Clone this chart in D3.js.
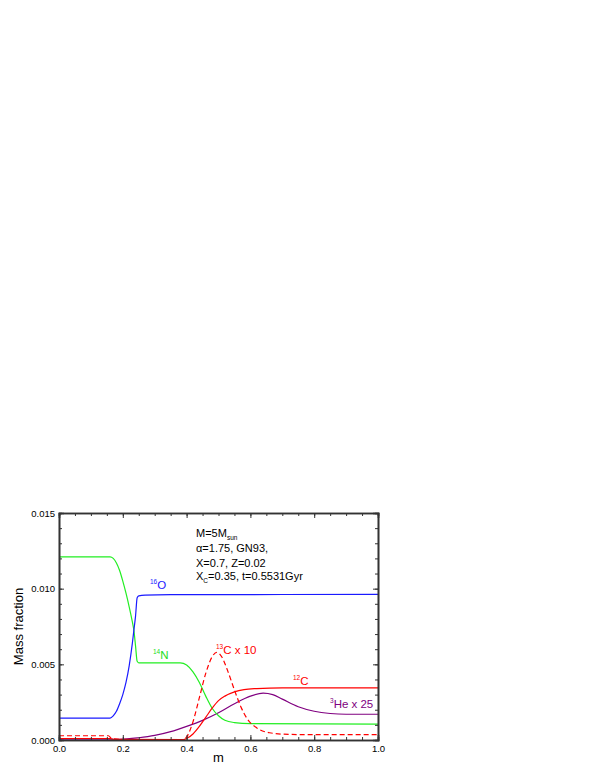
<!DOCTYPE html>
<html>
<head>
<meta charset="utf-8">
<script src="https://cdn.jsdelivr.net/npm/d3@7"></script>
<style>
  html, body { margin: 0; padding: 0; background: #fff; }
  svg { display: block; font-family: "Liberation Sans", Arial, sans-serif; }
</style>
</head>
<body>
<div id="chart"></div>
<script>
// ---- data: [m, mass fraction] ----
const o16 = [[0, 0.00145], [0.16, 0.00145], [0.17, 0.0016], [0.18, 0.0019], [0.19, 0.0024],
  [0.20, 0.0030], [0.21, 0.0038], [0.22, 0.0049], [0.23, 0.0064], [0.235, 0.0073],
  [0.24, 0.0082], [0.245, 0.0094], [0.25, 0.00952], [0.27, 0.00957], [0.35, 0.0096], [1.0, 0.00962]];

const n14 = [[0, 0.0121], [0.16, 0.0121], [0.17, 0.0120], [0.18, 0.0117], [0.19, 0.0112],
  [0.20, 0.0105], [0.21, 0.0097], [0.22, 0.0088], [0.23, 0.0078], [0.235, 0.0072],
  [0.24, 0.0062], [0.245, 0.0052], [0.25, 0.0051], [0.38, 0.0051], [0.40, 0.00495],
  [0.42, 0.0045], [0.44, 0.0038], [0.46, 0.0029], [0.48, 0.0021], [0.50, 0.0016],
  [0.52, 0.0013], [0.55, 0.00115], [0.60, 0.00108], [1.0, 0.00105]];

const c12 = [[0, 0.0001], [0.16, 0.0001], [0.17, 0.00005], [0.39, 0.00003], [0.40, 0.0001],
  [0.42, 0.0004], [0.44, 0.0009], [0.46, 0.0015], [0.48, 0.0021], [0.50, 0.0026],
  [0.52, 0.0029], [0.55, 0.00318], [0.58, 0.00333], [0.62, 0.0034], [0.70, 0.00345], [1.0, 0.00345]];

const c13x10 = [[0, 0.00028], [0.155, 0.00028], [0.165, 0.0001], [0.20, 0.00003], [0.39, 0.00003],
  [0.40, 0.0002], [0.42, 0.0012], [0.44, 0.0028], [0.46, 0.0044], [0.48, 0.0055],
  [0.495, 0.0058], [0.51, 0.0055], [0.53, 0.0045], [0.55, 0.0033], [0.57, 0.0022],
  [0.59, 0.0014], [0.62, 0.0008], [0.66, 0.00048], [0.72, 0.00037], [0.80, 0.00035], [1.0, 0.00035]];

const he3x25 = [[0, 0.00005], [0.19, 0.00005], [0.25, 0.00015], [0.30, 0.0003], [0.35, 0.00055],
  [0.40, 0.0009], [0.45, 0.0013], [0.50, 0.0018], [0.55, 0.0024], [0.60, 0.0029],
  [0.64, 0.0031], [0.67, 0.0030], [0.70, 0.0027], [0.75, 0.0022], [0.80, 0.0019],
  [0.85, 0.00175], [0.90, 0.0017], [1.0, 0.0017]];

const xTicks = [0, 0.2, 0.4, 0.6, 0.8, 1.0];
const yTicks = [0, 0.005, 0.010, 0.015];

const W = 599, H = 776;
const plot = { left: 59, right: 378, top: 513, bottom: 740 };

const svg = d3.select('#chart').append('svg')
  .attr('width', W).attr('height', H);
svg.append('rect').attr('width', W).attr('height', H).attr('fill', '#fff');

const x = d3.scaleLinear().domain([0, 1]).range([plot.left, plot.right]);
const y = d3.scaleLinear().domain([0, 0.015]).range([plot.bottom, plot.top]);

// curves
const line = d3.line().x(d => x(d[0])).y(d => y(d[1])).curve(d3.curveMonotoneX);
const series = [
  { data: he3x25, color: '#800080', dash: null },
  { data: n14,    color: '#22ee22', dash: null },
  { data: o16,    color: '#1a1aff', dash: null },
  { data: c12,    color: '#ff0000', dash: null },
  { data: c13x10, color: '#ff0000', dash: '5,3' },
];
svg.append('g').selectAll('path').data(series).join('path')
  .attr('d', s => line(s.data))
  .attr('fill', 'none')
  .attr('stroke', s => s.color)
  .attr('stroke-width', 1.2)
  .attr('stroke-dasharray', s => s.dash);

// axes (ticks point inward, Origin style)
const minorX = d3.range(0, 1.0001, 0.05);
const minorY = d3.range(0, 0.01501, 0.001);
const axisColor = '#333';

function frame(axisFn, scale, translate, major, minor, labels, pad) {
  const g = svg.append('g').attr('transform', translate);
  g.call(axisFn(scale).tickValues(minor).tickSize(-3).tickFormat(''));
  const gm = svg.append('g').attr('transform', translate);
  gm.call(axisFn(scale).tickValues(major).tickSize(-5).tickPadding(pad)
    .tickFormat(labels ? labels : ''));
  [g, gm].forEach(a => {
    a.select('.domain').attr('stroke', axisColor).attr('stroke-width', 1.6);
    a.selectAll('.tick line').attr('stroke', axisColor).attr('stroke-width', 1);
    a.selectAll('.tick text').attr('fill', '#000').attr('font-size', 9.5)
      .attr('font-family', '"Liberation Sans", Arial, sans-serif');
  });
  return gm;
}

frame(d3.axisBottom, x, `translate(0,${plot.bottom})`, xTicks, minorX, d3.format('.1f'), 5);
frame(d3.axisTop, x, `translate(0,${plot.top})`, xTicks, minorX, null, 3);
frame(d3.axisLeft, y, `translate(${plot.left},0)`, yTicks, minorY, d3.format('.3f'), 4);
frame(d3.axisRight, y, `translate(${plot.right},0)`, yTicks, minorY, null, 3);

// axis titles
svg.append('text')
  .attr('x', (plot.left + plot.right) / 2).attr('y', 762)
  .attr('text-anchor', 'middle').attr('font-size', 13).text('m');
svg.append('text')
  .attr('transform', `translate(23,${(plot.top + plot.bottom) / 2}) rotate(-90)`)
  .attr('text-anchor', 'middle').attr('font-size', 13).text('Mass fraction');

// info block
const info = svg.append('g').attr('font-size', 11).attr('fill', '#000');
let t = info.append('text').attr('x', 196).attr('y', 537);
t.append('tspan').text('M=5M');
t.append('tspan').attr('font-size', 6.5).attr('dy', 3).text('sun');
info.append('text').attr('x', 196).attr('y', 552).text('\u03b1=1.75, GN93,');
info.append('text').attr('x', 196).attr('y', 567).text('X=0.7, Z=0.02');
t = info.append('text').attr('x', 196).attr('y', 580);
t.append('tspan').text('X');
t.append('tspan').attr('font-size', 6.5).attr('dy', 3).text('C');
t.append('tspan').attr('dy', -3).text('=0.35, t=0.5531Gyr');

// curve labels
const labels = [
  { sup: '16', main: 'O', x: 150, y: 589, color: '#1a1aff' },
  { sup: '14', main: 'N', x: 153, y: 659, color: '#22dd22' },
  { sup: '13', main: 'C x 10', x: 216, y: 654, color: '#ff0000' },
  { sup: '12', main: 'C', x: 293, y: 685, color: '#ff0000' },
  { sup: '3', main: 'He x 25', x: 330, y: 708, color: '#800080' },
];
labels.forEach(l => {
  const tx = svg.append('text').attr('x', l.x).attr('y', l.y)
    .attr('fill', l.color).attr('font-size', 11.5);
  tx.append('tspan').attr('font-size', 6.5).attr('dy', -5).text(l.sup);
  tx.append('tspan').attr('dy', 5).text(l.main);
});
</script>
</body>
</html>
